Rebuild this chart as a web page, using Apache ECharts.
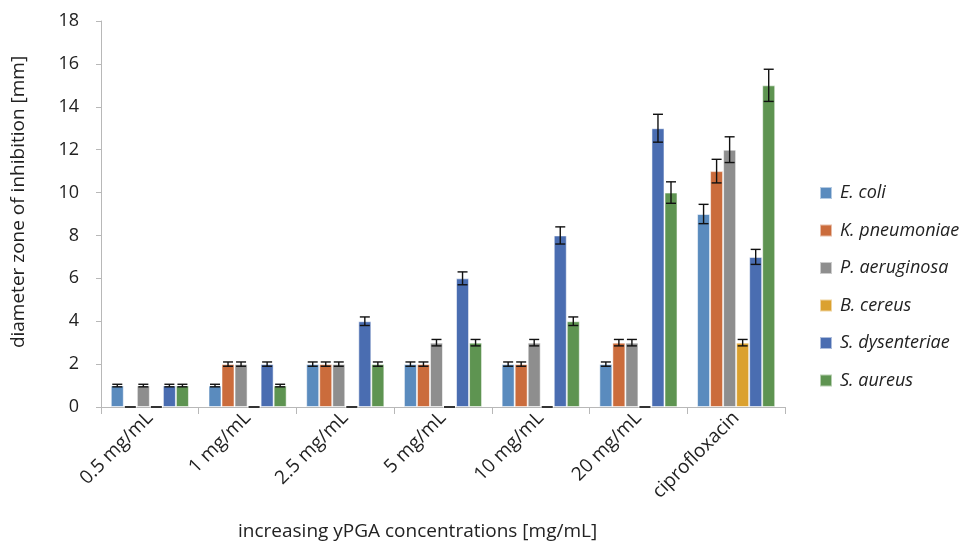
<!DOCTYPE html>
<html>
<head>
<meta charset="utf-8">
<script src="https://cdn.jsdelivr.net/npm/echarts@6/dist/echarts.min.js"></script>
<style>html,body{margin:0;padding:0;background:#fff}#c{width:966px;height:546px}</style>
</head>
<body>
<div id="c"></div>
<script>
const categories = ['0.5 mg/mL', '1 mg/mL', '2.5 mg/mL', '5 mg/mL', '10 mg/mL', '20 mg/mL', 'ciprofloxacin'];
const seriesNames = ['E. coli', 'K. pneumoniae', 'P. aeruginosa', 'B. cereus', 'S. dysenteriae', 'S. aureus'];
const eColi = [1, 1, 2, 2, 2, 2, 9];
const kPneumoniae = [0, 2, 2, 2, 2, 3, 11];
const pAeruginosa = [1, 2, 2, 3, 3, 3, 12];
const bCereus = [0, 0, 0, 0, 0, 0, 3];
const sDysenteriae = [1, 2, 4, 6, 8, 13, 7];
const sAureus = [1, 1, 2, 3, 4, 10, 15];
const eColiErr = [0.06, 0.06, 0.1, 0.1, 0.1, 0.1, 0.45];
const kPneumoniaeErr = [0, 0.1, 0.1, 0.1, 0.1, 0.15, 0.55];
const pAeruginosaErr = [0.06, 0.1, 0.1, 0.15, 0.15, 0.15, 0.6];
const bCereusErr = [0, 0, 0, 0, 0, 0, 0.15];
const sDysenteriaeErr = [0.06, 0.1, 0.2, 0.3, 0.4, 0.65, 0.35];
const sAureusErr = [0.06, 0.06, 0.1, 0.15, 0.2, 0.5, 0.75];
const yTicks = [0, 2, 4, 6, 8, 10, 12, 14, 16, 18];

const values = [eColi, kPneumoniae, pAeruginosa, bCereus, sDysenteriae, sAureus];
const errors = [eColiErr, kPneumoniaeErr, pAeruginosaErr, bCereusErr, sDysenteriaeErr, sAureusErr];
const colors = ['#5A8BBE', '#CB6C3C', '#8E8E8E', '#DBA12F', '#4A6DB1', '#5E9451'];
const FONT = '"Open Sans", sans-serif';
const N = seriesNames.length;
const CAT_GAP = 0.2;

const series = [];
seriesNames.forEach((name, i) => {
  series.push({
    name: name, type: 'bar', barGap: '0%', barCategoryGap: '20%',
    data: values[i],
    itemStyle: { color: colors[i], borderColor: 'rgba(255,255,255,0.55)', borderWidth: 1 },
    emphasis: { disabled: true }, z: 2
  });
});
seriesNames.forEach((name, i) => {
  series.push({
    type: 'custom', silent: true, z: 5,
    data: values[i].map((v, k) => [k, v, errors[i][k]]),
    renderItem: function (params, api) {
      const k = api.value(0), v = api.value(1), e = api.value(2);
      const bw = api.size([1, 0])[0];
      const barW = bw * (1 - CAT_GAP) / N;
      const c = api.coord([k, v]);
      const x = c[0] + (i - (N - 1) / 2) * barW;
      if (v === 0) {
        return { type: 'line', shape: { x1: x - barW / 2 + 1, y1: c[1], x2: x + barW / 2 - 1, y2: c[1] },
                 style: { stroke: '#333', lineWidth: 2 } };
      }
      if (!e) return null;
      const top = api.coord([k, v + e])[1], bot = api.coord([k, v - e])[1];
      const cap = 5;
      const st = { stroke: '#111', lineWidth: 1.4 };
      return { type: 'group', children: [
        { type: 'line', shape: { x1: x, y1: top, x2: x, y2: bot }, style: st },
        { type: 'line', shape: { x1: x - cap, y1: top, x2: x + cap, y2: top }, style: st },
        { type: 'line', shape: { x1: x - cap, y1: bot, x2: x + cap, y2: bot }, style: st }
      ]};
    }
  });
});

const chart = echarts.init(document.getElementById('c'), null, { renderer: 'canvas' });
chart.setOption({
  animation: false,
  color: colors,
  grid: { left: 101, right: 181, top: 21, bottom: 139, containLabel: false },
  legend: {
    data: seriesNames, orient: 'vertical', left: 819, top: 183, padding: 0,
    itemWidth: 12, itemHeight: 12, itemGap: 17.5, icon: 'rect',
    textStyle: { fontFamily: FONT, fontSize: 18, fontStyle: 'italic', color: '#222', lineHeight: 20, padding: [0, 0, 0, 3] }
  },
  xAxis: {
    type: 'category', data: categories,
    axisLine: { lineStyle: { color: '#b8b8b8', width: 1 } },
    axisTick: { show: true, alignWithLabel: false, length: 7, lineStyle: { color: '#b8b8b8' } },
    axisLabel: { rotate: 45, fontFamily: FONT, fontSize: 19, color: '#222', margin: 8, interval: 0 }
  },
  yAxis: {
    type: 'value', min: 0, max: 18, interval: 2,
    axisLine: { show: true, lineStyle: { color: '#b8b8b8', width: 1 } },
    axisTick: { show: true, length: 5, lineStyle: { color: '#b8b8b8' } },
    splitLine: { show: false },
    axisLabel: { fontFamily: FONT, fontSize: 18, color: '#222', margin: 22,
      formatter: v => yTicks.includes(v) ? String(v) : '' }
  },
  graphic: [
    { type: 'text', left: 238, top: 522, style: { text: 'increasing yPGA concentrations [mg/mL]', font: '19px ' + FONT, fill: '#222' } },
    { type: 'text', x: 19, y: 202, rotation: Math.PI / 2, style: { text: 'diameter zone of inhibition [mm]', font: '19px ' + FONT, fill: '#222', align: 'center', verticalAlign: 'middle' } }
  ],
  series: series
});
</script>
</body>
</html>
